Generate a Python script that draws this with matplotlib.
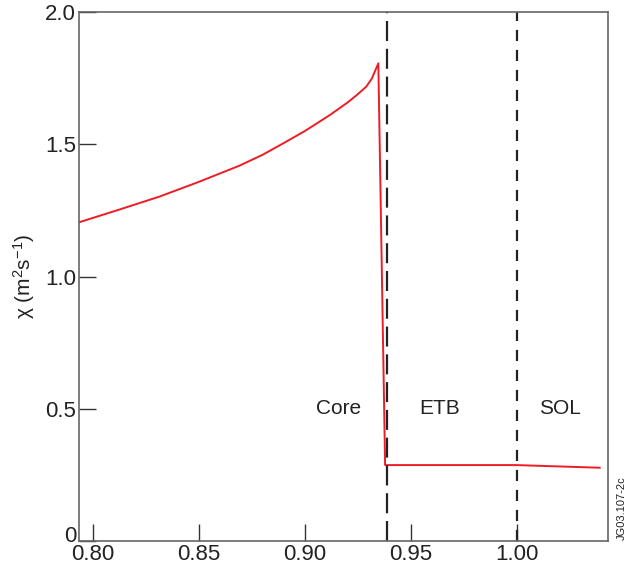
import numpy as np
import matplotlib
matplotlib.use("Agg")
import matplotlib.pyplot as plt
import matplotlib.transforms as mtransforms

plt.rcParams["font.family"] = ["Liberation Sans", "DejaVu Sans"]
plt.rcParams["mathtext.fontset"] = "custom"
plt.rcParams["mathtext.rm"] = "Liberation Sans"
plt.rcParams["mathtext.it"] = "Liberation Sans"

# chi profile
rho = [0.7934, 0.8120, 0.8313, 0.8500, 0.8691, 0.8800, 0.8899, 0.9000, 0.9119,
       0.9200, 0.9245, 0.9290, 0.9316, 0.9347, 0.9379, 1.000, 1.0392]
chi = [1.205, 1.252, 1.302, 1.358, 1.419, 1.460, 1.504, 1.550, 1.611,
       1.657, 1.686, 1.718, 1.748, 1.806, 0.287, 0.287, 0.277]

pedestal_top = 0.9387
separatrix = 1.00

regions = ["Core", "ETB", "SOL"]
region_x = [0.9157, 0.9638, 1.0204]
region_y = 0.50

xticks = [0.80, 0.85, 0.90, 0.95, 1.00]
xlabels = ["0.80", "0.85", "0.90", "0.95", "1.00"]
yticks = [0, 0.5, 1.0, 1.5, 2.0]
ylabels = ["0", "0.5", "1.0", "1.5", "2.0"]

fig = plt.figure(figsize=(6.31, 5.74), dpi=100)
ax = fig.add_axes([0.1252, 0.0575, 0.8383, 0.9215])

ax.plot(rho, chi, color="#ee1c25", lw=1.4)
ax.axvline(pedestal_top, color="#222222", lw=1.6, dashes=(9, 3.5))
ax.axvline(separatrix, color="#222222", lw=1.6, dashes=(5, 4))

for name, x in zip(regions, region_x):
    ax.text(x, region_y, name, ha="center", va="center", fontsize=15, color="#222222")

ax.set_xlim(0.7934, 1.0431)
ax.set_ylim(0, 2.0)
ax.set_xticks(xticks)
ax.set_xticklabels(xlabels)
ax.set_yticks(yticks)
ax.set_yticklabels(ylabels)
ax.tick_params(direction="in", length=12, width=1, colors="#333333",
               labelsize=16, labelcolor="#222222", pad=2)
for s in ax.spines.values():
    s.set_color("#666666")
    s.set_linewidth(1.2)

# the "0" label sits a little above the corner, clear of "0.80"
zero = ax.get_yticklabels()[0]
zero.set_transform(zero.get_transform() +
                   mtransforms.ScaledTranslation(0, 0.07, fig.dpi_scale_trans))

ax.set_ylabel("χ (m$^2$s$^{-1}$)", fontsize=15, color="#222222", labelpad=6)

fig.text(0.985, 0.06, "JG03.107-2c", rotation=90, fontsize=8, color="#222222",
         ha="center", va="bottom")

fig.savefig("out.png", dpi=100)
